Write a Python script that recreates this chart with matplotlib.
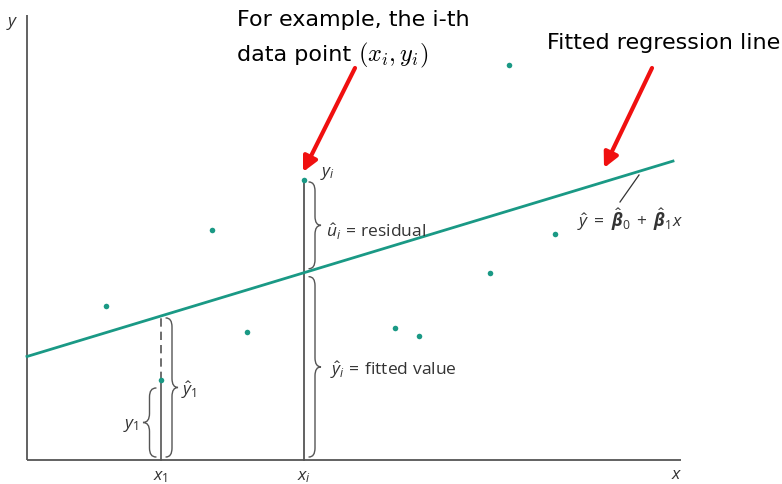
import matplotlib
matplotlib.use("Agg")
import matplotlib.pyplot as plt
from matplotlib.path import Path
from matplotlib.patches import PathPatch

plt.rcParams["mathtext.fontset"] = "custom"
plt.rcParams["mathtext.rm"] = "Open Sans"
plt.rcParams["mathtext.it"] = "Open Sans:italic"
plt.rcParams["mathtext.bf"] = "Open Sans:bold:italic"

# Observations (x, y)
x_obs = [7.9, 18.5, 22.0, 13.4, 27.7, 36.8, 39.2, 46.3, 48.2, 52.8]
y_obs = [15.4, 23.0, 12.8, 8.0, 28.0, 13.2, 12.4, 18.7, 39.5, 22.6]

# Fitted regression line y = b0 + b1 x
b0 = 10.35
b1 = 0.3025
line_x = [0.0, 64.6]

# Highlighted observations
x_1, y_1 = 13.4, 8.0
x_i, y_i = 27.7, 28.0

# Axis extents
x_axis_end = 65.4
y_axis_end = 44.5

TEAL = "#1a9985"
GRAY = "#555555"
RED = "#f01010"


def fitted(x):
    return b0 + b1 * x


def brace(ax, x0, y_lo, y_hi, w, direction=1, r=0.9, lw=1.0, color=GRAY):
    """Vertical curly brace from y_lo to y_hi, tip pointing right (1) or left (-1)."""
    h = w / 2 * direction
    t = w * direction
    ym = (y_lo + y_hi) / 2
    verts = [
        (x0, y_hi),
        (x0 + h, y_hi), (x0 + h, y_hi - r),
        (x0 + h, ym + r),
        (x0 + h, ym), (x0 + t, ym),
        (x0 + h, ym), (x0 + h, ym - r),
        (x0 + h, y_lo + r),
        (x0 + h, y_lo), (x0, y_lo),
    ]
    codes = [Path.MOVETO,
             Path.CURVE3, Path.CURVE3,
             Path.LINETO,
             Path.CURVE3, Path.CURVE3,
             Path.CURVE3, Path.CURVE3,
             Path.LINETO,
             Path.CURVE3, Path.CURVE3]
    ax.add_patch(PathPatch(Path(verts, codes), fill=False, lw=lw,
                           edgecolor=color, capstyle="round"))


fig = plt.figure(figsize=(7.82, 4.84), dpi=100)
ax = fig.add_axes([0, 0, 1, 1])
ax.set_xlim(-2.7, 75.5)
ax.set_ylim(-2.4, 46.0)
ax.axis("off")

# Coordinate axes
ax.plot([0, 0], [0, y_axis_end], color=GRAY, lw=1.3, solid_capstyle="butt")
ax.plot([0, x_axis_end], [0, 0], color=GRAY, lw=1.3, solid_capstyle="butt")
label_font = dict(family="Open Sans", color="#333333")
ax.text(-1.5, 43.7, "$y$", fontsize=12.5, ha="center", va="center", **label_font)
ax.text(65.0, -1.5, "$x$", fontsize=12.5, ha="center", va="center", **label_font)

# Regression line
ax.plot(line_x, [fitted(v) for v in line_x], color=TEAL, lw=2.0, zorder=3)

# Guide lines at x_1 and x_i
ax.plot([x_1, x_1], [y_1, fitted(x_1)], color=GRAY, lw=1.2,
        linestyle=(0, (5, 3)), zorder=2)
ax.plot([x_1, x_1], [0, y_1], color=GRAY, lw=1.2, zorder=2)
ax.plot([x_i, x_i], [0, y_i], color=GRAY, lw=1.3, zorder=2)

# Data points
ax.scatter(x_obs, y_obs, s=16, color=TEAL, zorder=4, linewidths=0)

# Braces and their labels
brace(ax, x_i + 0.5, fitted(x_i) + 0.4, y_i - 0.2, 1.2, 1)
brace(ax, x_i + 0.5, 0.3, fitted(x_i) - 0.4, 1.2, 1)
brace(ax, x_1 + 0.5, 0.3, fitted(x_1) - 0.2, 1.2, 1)
brace(ax, x_1 - 0.5, 0.3, y_1 - 0.8, 1.3, -1)

fs = 12.5
ax.text(x_i + 2.2, (fitted(x_i) + y_i) / 2 - 0.5,
        r"$\hat{u}_i\,=\,\mathrm{residual}$",
        fontsize=fs, ha="left", va="center", **label_font)
ax.text(x_i + 2.6, fitted(x_i) / 2 - 0.4,
        r"$\hat{y}_i\,=\,\mathrm{fitted\ value}$",
        fontsize=fs, ha="left", va="center", **label_font)
ax.text(x_1 + 2.0, fitted(x_1) / 2 - 0.2, r"$\hat{y}_1$",
        fontsize=fs, ha="left", va="center", **label_font)
ax.text(x_1 - 2.2, (y_1 - 0.8) / 2 - 0.1, r"$y_1$",
        fontsize=fs, ha="right", va="center", **label_font)
ax.text(x_i + 1.6, y_i + 0.6, r"$y_i$", fontsize=fs, ha="left",
        va="center", **label_font)
ax.text(x_1, -1.7, r"$x_1$", fontsize=fs, ha="center", va="center",
        **label_font)
ax.text(x_i, -1.7, r"$x_i$", fontsize=fs, ha="center", va="center",
        **label_font)

# Equation of the fitted line with leader
ax.plot([61.2, 59.3], [28.5, 25.8], color="#333333", lw=0.9)
ax.text(55.0, 24.0,
        r"$\hat{y}\;=\;\hat{\mathbf{\beta}}_0\;+\;\hat{\mathbf{\beta}}_1x$",
        fontsize=fs, ha="left", va="center", **label_font)

# Callouts
title_font = dict(fontsize=16, family="DejaVu Sans", color="black")
ax.text(21.0, 44.0, "For example, the i-th", ha="left", va="center",
        **title_font)
ax.text(21.0, 40.5, "data point", ha="left", va="center", **title_font)
ax.text(33.1, 40.5, r"$(x_i, y_i)$", fontsize=17.5, ha="left", va="center",
        math_fontfamily="cm", color="black")
ax.annotate("", xy=(x_i - 0.1, y_i + 0.8), xytext=(32.8, 39.2),
            arrowprops=dict(arrowstyle="-|>", color=RED, lw=3,
                            mutation_scale=22, shrinkA=0, shrinkB=0))

ax.text(52.0, 41.7, "Fitted regression line", ha="left", va="center",
        **title_font)
ax.annotate("", xy=(57.7, 29.2), xytext=(62.5, 39.2),
            arrowprops=dict(arrowstyle="-|>", color=RED, lw=3,
                            mutation_scale=22, shrinkA=0, shrinkB=0))

fig.savefig("out.png", dpi=100)
